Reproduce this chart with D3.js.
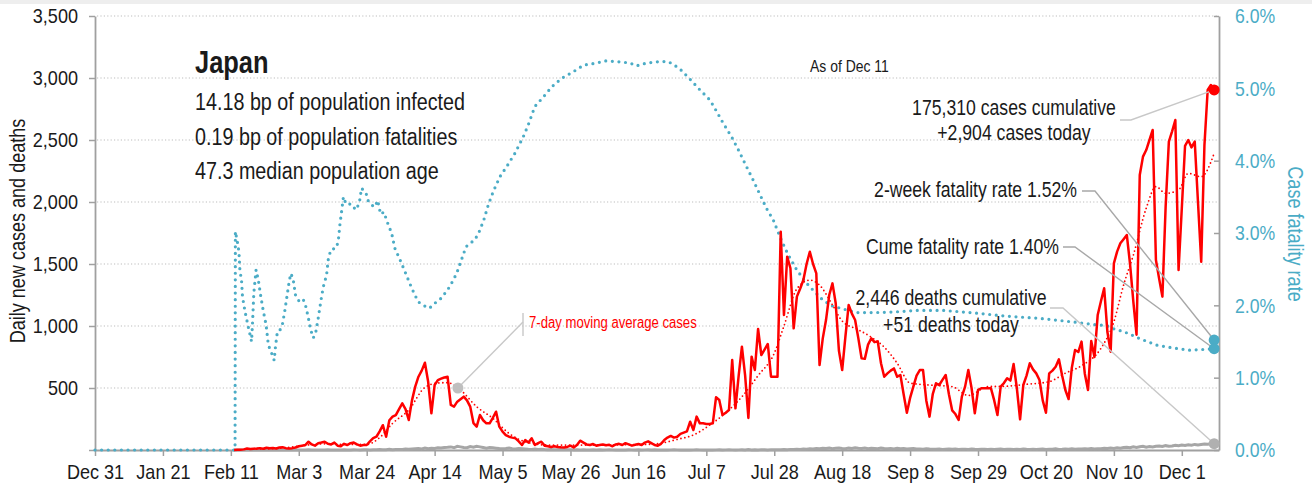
<!DOCTYPE html>
<html><head><meta charset="utf-8">
<script src="https://cdn.jsdelivr.net/npm/d3@7"></script>
<style>
html,body{margin:0;padding:0;background:#fff;}
svg text{font-family:'Liberation Sans',Arial,sans-serif;}
</style></head><body>
<svg id="chart" width="1312" height="488"></svg>
<script>
// ---------- DATA ----------
const START = "2019-12-31";               // day 0
const xTickDates = ["2019-12-31","2020-01-21","2020-02-11","2020-03-03","2020-03-24","2020-04-14","2020-05-05","2020-05-26","2020-06-16","2020-07-07","2020-07-28","2020-08-18","2020-09-08","2020-09-29","2020-10-20","2020-11-10","2020-12-01"];
const yTicks = [500,1000,1500,2000,2500,3000,3500];
const cfrTicks = [0,1,2,3,4,5,6];
const casesStartDay = 43;                 // Feb 12
const dailyCases = [
 1,2,2,5,12,8,10,12,15,10,18,14,16,12,20,22,15,12,
 15,20,30,35,40,67,45,35,55,60,67,50,45,60,35,30,50,40,55,60,45,35,40,40,70,95,107,150,200,107,240,
 269,282,330,376,330,242,400,511,591,640,704,550,296,524,564,575,585,591,363,350,390,410,430,400,350,217,188,282,240,215,
 215,260,309,188,148,120,107,100,94,70,40,80,60,94,40,55,67,35,30,25,30,25,22,20,25,35,20,40,75,60,45,
 40,48,35,40,45,38,42,30,45,50,40,55,45,35,42,48,40,60,70,55,40,35,50,80,100,113,100,107,130,140,
 150,228,161,269,215,215,210,209,215,425,403,282,300,322,726,336,600,833,600,258,753,645,976,766,810,855,591,591,591,1761,1089,
 1559,1466,981,1237,1300,1371,1500,1599,1500,1425,685,900,1048,1250,1344,1183,800,645,914,1169,1100,1048,900,739,735,850,900,870,876,700,591,
 618,640,658,591,605,450,300,420,511,600,645,645,400,269,450,538,524,565,605,450,320,290,242,430,511,645,500,296,484,497,
 497,497,497,400,282,511,540,578,560,693,500,247,524,600,699,650,618,564,400,301,618,640,672,731,600,484,411,664,806,790,874,
 617,484,879,750,1089,1200,1304,951,793,1505,1600,1667,1700,1734,1500,1200,930,2218,2366,2419,2500,2581,1532,1380,1237,1962,2487,2570,2661,1452,
 1950,2452,2500,2440,2487,2000,1519,2460,2903,2944,2904
];
const dailyDeaths = [
 0,0,0,0,0,0,0,0,1,0,0,1,0,0,1,1,0,0,
 0,1,1,1,0,1,0,1,1,1,0,2,1,1,1,0,2,1,1,2,1,0,2,3,1,2,2,4,3,2,5,
 3,5,4,5,8,6,8,10,12,9,15,10,14,12,18,16,20,22,25,18,30,25,20,18,28,22,30,25,20,15,
 20,18,15,12,10,12,15,10,8,12,10,8,6,5,8,5,6,4,3,5,3,2,4,3,2,3,1,2,1,2,1,
 1,2,1,2,0,1,2,1,0,1,1,0,2,1,0,1,0,1,2,0,1,0,1,1,0,1,2,1,0,1,
 1,0,1,2,1,0,1,1,0,1,2,0,1,2,1,0,1,2,0,3,1,2,1,3,2,1,3,2,2,3,4,
 2,5,4,6,5,8,6,10,8,12,10,14,12,15,10,14,16,12,10,15,12,18,14,12,16,10,14,12,10,15,12,
 10,12,8,14,10,12,8,10,12,9,8,6,10,8,7,6,8,5,7,9,6,8,5,7,6,4,8,6,5,7,
 6,5,7,4,6,8,5,6,7,4,6,5,8,6,5,7,4,6,8,5,7,6,9,5,6,8,7,10,6,8,9,
 10,8,12,9,11,10,14,12,16,13,18,15,20,22,18,25,20,26,30,22,28,25,30,33,28,35,30,32,38,34,
 40,36,42,38,45,40,44,48,46,50,51
];
// 7-day moving average of cases
const maDays  = [50,57,64,71,78,84,88,92,97,102,106,109,113,118,123,128,133,140,150,160,170,175,180,185,190,195,200,205,210,213,217,221,224,228,231,236,240,244,248,252,258,265,270,276,282,288,295,300,305,311,315,318,321,325,328,331,335,338,342,346];
const maCases = [8,14,35,50,45,45,100,215,323,505,540,543,484,349,255,134,67,40,40,42,45,55,86,121,200,300,430,600,780,1000,1300,1370,1330,1170,1040,970,910,830,700,540,524,511,440,511,515,530,551,620,680,820,1035,1330,1570,1950,2124,2070,2097,2231,2204,2392];
// case fatality rate, %
const cfrDays = [0,43.3,43.4,44.3,44.6,44.8,45.3,45.6,46.4,47.4,48.4,48.7,49.1,49.8,50.5,51.2,52,52.9,53.6,54.6,55.4,55.8,56.4,57.2,58,58.7,59.4,60.1,60.6,61.3,62,63.2,64.4,65.2,65.9,66.7,67.5,68.3,69,69.9,70.6,71.6,72.1,72.9,74.5,75.2,75.7,76.3,76.8,77.6,79.3,80.6,81.7,82.4,83.8,84.5,85.8,86.5,87.4,88.3,89.3,90.7,91.7,92.7,94.3,95.8,97.9,99.9,101.5,103.4,105.6,107.1,109.7,111.8,113.3,114.7,117.5,118.8,120.2,121.6,123.1,125.2,127.3,129.8,132.4,133.9,136,138.6,141.2,144.3,147.9,151,155.1,157.6,161.3,165.4,167.4,170.5,174.7,177.2,178.8,180.8,183.9,187,190.1,192.2,194.2,196.8,198.9,201.4,203.5,205.6,207.6,209.7,212.2,214.3,216.7,219.5,222,225.1,228,231.3,235.4,241.6,247.8,254,262.2,270.5,281.8,292.1,302.4,309.6,312.7,315.8,317.9,321,323,328.2,333.3,338.5,342.6,346];
const cfrPct  = [0,0,3.02,2.81,2.67,2.48,2.35,2.12,1.91,1.70,1.50,1.75,2.17,2.49,2.35,2.14,1.93,1.73,1.45,1.34,1.24,1.43,1.64,1.66,1.75,1.93,2.14,2.35,2.44,2.35,2.14,2.05,2.08,1.98,1.84,1.66,1.55,1.64,1.82,2.08,2.26,2.42,2.63,2.77,2.79,2.88,3.11,3.32,3.50,3.40,3.40,3.32,3.41,3.62,3.55,3.44,3.38,3.36,3.45,3.26,3.29,3.11,3.00,2.79,2.63,2.47,2.24,2.05,2.00,1.96,2.05,2.10,2.26,2.44,2.63,2.81,2.91,3.02,3.18,3.39,3.57,3.78,3.92,4.10,4.33,4.49,4.75,4.88,5.02,5.14,5.23,5.32,5.35,5.38,5.37,5.35,5.31,5.35,5.37,5.37,5.33,5.27,5.13,4.98,4.84,4.68,4.52,4.33,4.15,3.92,3.73,3.53,3.34,3.18,2.90,2.70,2.51,2.33,2.21,2.07,1.99,1.95,1.90,1.90,1.91,1.93,1.93,1.90,1.85,1.82,1.77,1.73,1.72,1.66,1.64,1.58,1.54,1.45,1.41,1.38,1.39,1.40];
const lastDay = 346, lastCases = 2904, lastDeaths = 51, cfr2wk = 1.52, cfrCume = 1.40;
const maLabelDay = 112.2, maLabelValue = 500;

// ---------- CHART ----------
const svg = d3.select("#chart");
const t0 = d3.timeParse("%Y-%m-%d")(START);
const day = d => new Date(t0.getTime() + d * 864e5);
const BLUE = "#4bacc6", RED = "#ff0000", GREY = "#a6a6a6", AXIS = "#a0a0a0", INK = "#1a1a1a";
const FONT = "'Liberation Sans',Arial,sans-serif";

const L = 95, R = 1219, T = 16, B = 450;
const x = d3.scaleTime().domain([t0, day(347.5)]).range([L, R]);
const y = d3.scaleLinear().domain([0, 3500]).range([B, T]);
const y2 = d3.scaleLinear().domain([0, 6]).range([B, T]);

svg.append("rect").attr("x",0).attr("y",0).attr("width",1312).attr("height",4).attr("fill","#eeeeee");

// grid
svg.append("g").selectAll("line").data(yTicks).join("line")
  .attr("x1", L + 2).attr("x2", R).attr("y1", d => y(d)).attr("y2", d => y(d))
  .attr("stroke", "#bdbdbd").attr("stroke-width", 1.1).attr("stroke-dasharray", "1.2 2.2");

// axes
const fmtX = d3.timeFormat("%b %-d");
const parse = d3.timeParse("%Y-%m-%d");
const gx = svg.append("g").attr("transform", `translate(0,${B})`)
  .call(d3.axisBottom(x).tickValues(xTickDates.map(parse)).tickFormat(fmtX).tickSize(6).tickSizeOuter(0).tickPadding(8));
const gy = svg.append("g").attr("transform", `translate(${L},0)`)
  .call(d3.axisLeft(y).tickValues([0].concat(yTicks)).tickFormat(d => d === 0 ? "" : d3.format(",")(d)).tickSize(6).tickSizeOuter(0).tickPadding(11));
const gy2 = svg.append("g").attr("transform", `translate(${R},0)`)
  .call(d3.axisRight(y2).tickValues(cfrTicks).tickFormat(d => d.toFixed(1) + "%").tickSize(-5).tickSizeOuter(0).tickPadding(16));
[gx, gy, gy2].forEach(g => {
  g.select(".domain").attr("stroke", AXIS).attr("stroke-width", 1.8);
  g.selectAll(".tick line").attr("stroke", AXIS).attr("stroke-width", 1.5);
  g.selectAll(".tick text").attr("font-size", 21).attr("fill", INK).attr("font-family", FONT)
    .classed("cond", true).attr("data-f", 0.86);
});
gy2.selectAll(".tick text").attr("fill", BLUE).attr("data-f", 0.84);

// axis titles
svg.append("text").attr("class","cond").attr("transform", "translate(25,231) rotate(-90)").attr("text-anchor", "middle")
  .attr("font-size", 22).attr("fill", INK).text("Daily new cases and deaths");
svg.append("text").attr("class","cond").attr("transform", "translate(1288,234) rotate(90)").attr("text-anchor", "middle")
  .attr("font-size", 22).attr("fill", BLUE).text("Case fatality rate");

// series
const casesData = dailyCases.map((v, i) => ({ d: day(casesStartDay + i), v }));
const deathsData = dailyDeaths.map((v, i) => ({ d: day(casesStartDay + i), v }));
const maData = maDays.map((d, i) => ({ d: day(d), v: maCases[i] }));
const cfrData = cfrDays.map((d, i) => ({ d: day(d), v: cfrPct[i] }));

svg.append("path").datum(deathsData).attr("fill", "none").attr("stroke", GREY).attr("stroke-width", 3)
  .attr("d", d3.line().x(p => x(p.d)).y(p => y(p.v)));
svg.append("path").datum(cfrData).attr("fill", "none").attr("stroke", BLUE).attr("stroke-width", 3.2)
  .attr("stroke-linecap", "round").attr("stroke-dasharray", "0 6.6")
  .attr("d", d3.line().x(p => x(p.d)).y(p => y2(p.v)));
svg.append("path").datum(casesData).attr("fill", "none").attr("stroke", RED).attr("stroke-width", 2.5)
  .attr("stroke-linejoin", "round")
  .attr("d", d3.line().x(p => x(p.d)).y(p => y(p.v)));
svg.append("path").datum(maData).attr("fill", "none").attr("stroke", RED).attr("stroke-width", 1.8)
  .attr("stroke-linecap", "round").attr("stroke-dasharray", "0 4")
  .attr("d", d3.line().curve(d3.curveMonotoneX).x(p => x(p.d)).y(p => y(p.v)));

// title block
const tb = svg.append("g").attr("fill", INK);
tb.append("text").attr("class","cond").attr("x", 195).attr("y", 73).attr("font-size", 31).attr("font-weight", "bold").text("Japan");
tb.append("text").attr("class","cond").attr("data-f",0.84).attr("x", 195).attr("y", 110).attr("font-size", 23.5).text("14.18 bp of population infected");
tb.append("text").attr("class","cond").attr("data-f",0.84).attr("x", 195).attr("y", 145).attr("font-size", 23.5).text("0.19 bp of population fatalities");
tb.append("text").attr("class","cond").attr("data-f",0.84).attr("x", 195).attr("y", 179).attr("font-size", 23.5).text("47.3 median population age");
svg.append("text").attr("class","cond").attr("x", 810).attr("y", 72).attr("font-size", 17).attr("fill", INK).text("As of Dec 11");

// annotations
const xe = x(day(lastDay));
const lead = (pts, c) => svg.append("path").attr("d", d3.line()(pts)).attr("fill", "none").attr("stroke", c).attr("stroke-width", 1.4);
lead([[1120,120],[1131,120],[xe, y(lastCases)]], "#c8c8c8");
lead([[1082,191],[1095,191],[xe, y2(cfr2wk)]], "#a8a8a8");
lead([[1063,247],[1075,247],[xe, y2(cfrCume)]], "#a8a8a8");
lead([[1050,308],[1063,308],[xe, y(lastDeaths)]], "#c8c8c8");

const ann = svg.append("g").attr("fill", INK).attr("font-size", 21.5).attr("text-anchor", "middle");
ann.append("text").attr("class","cond").attr("x", 1014).attr("y", 115).text("175,310 cases cumulative");
ann.append("text").attr("class","cond").attr("x", 1014).attr("y", 140).text("+2,904 cases today");
ann.append("text").attr("class","cond").attr("x", 1077).attr("y", 197).attr("text-anchor", "end").text("2-week fatality rate 1.52%");
ann.append("text").attr("class","cond").attr("x", 1059).attr("y", 254).attr("text-anchor", "end").text("Cume fatality rate 1.40%");
ann.append("text").attr("class","cond").attr("x", 951).attr("y", 305).text("2,446 deaths cumulative");
ann.append("text").attr("class","cond").attr("x", 951).attr("y", 332).text("+51 deaths today");

// MA label
const mx = x(day(maLabelDay)), my = y(maLabelValue);
lead([[mx, my],[523, 322]], "#c8c8c8");
lead([[523, 313],[523, 336]], "#c8c8c8");
svg.append("circle").attr("cx", mx).attr("cy", my).attr("r", 5.5).attr("fill", "#bfbfbf");
svg.append("text").attr("class","cond").attr("x", 529).attr("y", 328).attr("font-size", 16).attr("fill", RED).text("7-day moving average cases");

// end markers
svg.append("circle").attr("cx", xe).attr("cy", y(lastCases)).attr("r", 5.5).attr("fill", RED);
svg.append("circle").attr("cx", xe).attr("cy", y2(cfr2wk)).attr("r", 5.5).attr("fill", BLUE);
svg.append("circle").attr("cx", xe).attr("cy", y2(cfrCume)).attr("r", 5.5).attr("fill", BLUE);
svg.append("circle").attr("cx", xe).attr("cy", y(lastDeaths)).attr("r", 5.5).attr("fill", "#b0b0b0");

// narrow the (regular-width) font to the condensed proportions of the original
svg.selectAll("text").attr("font-family", FONT);
svg.selectAll("text.cond").each(function () {
  const f = +(this.getAttribute("data-f") || 0.82);
  const len = this.getComputedTextLength();
  d3.select(this).attr("textLength", (len * f).toFixed(1)).attr("lengthAdjust", "spacingAndGlyphs");
});
</script>
</body></html>
